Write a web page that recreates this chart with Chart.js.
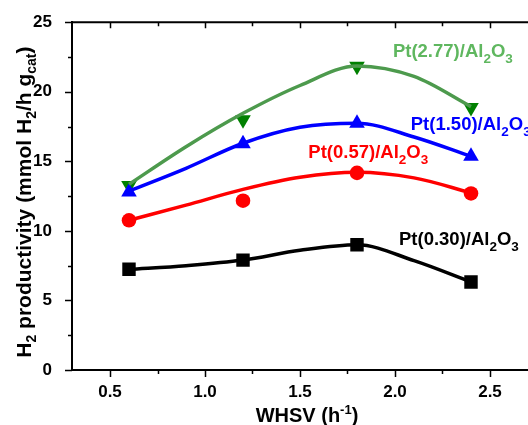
<!DOCTYPE html>
<html><head><meta charset="utf-8">
<script src="https://cdn.jsdelivr.net/npm/chart.js@4.4.1/dist/chart.umd.min.js"></script>
<style>html,body{margin:0;padding:0;background:#fff;}#wrap{width:528px;height:425px;position:relative;}</style>
</head><body><div id="wrap"><canvas id="c" width="528" height="425"></canvas></div>
<script>
// measured points
const whsv = [0.6, 1.2, 1.8, 2.4];
const pt030 = [7.24, 7.90, 9.00, 6.33];
const pt057 = [10.76, 12.17, 14.17, 12.69];
const pt150 = [12.80, 16.26, 17.74, 15.36];
const pt277 = [13.26, 17.98, 21.83, 18.86];
// fitted curves
const fitX = [0.6, 0.9, 1.2, 1.5, 1.8, 2.1, 2.4];
const fit030 = [7.24, 7.5, 7.9, 8.6, 9.0, 7.86, 6.33];
const fit057 = [10.76, 11.85, 12.98, 13.85, 14.21, 13.81, 12.74];
const fit150 = [12.86, 14.5, 16.3, 17.45, 17.74, 16.75, 15.36];
const fit277 = [13.35, 16.05, 18.45, 20.45, 21.85, 21.1, 18.93];
// ticks
const xMajor = [0.5, 1.0, 1.5, 2.0, 2.5];
const xMinor = [0.75, 1.25, 1.75, 2.25];
const yMajor = [0, 5, 10, 15, 20, 25];
const yMinor = [2.5, 7.5, 12.5, 17.5, 22.5];
const xLabels = ['0.5', '1.0', '1.5', '2.0', '2.5'];

const FONT = '"Liberation Sans", Arial, sans-serif';
const pts = (xs, ys) => xs.map((x, i) => ({x, y: ys[i]}));

const seriesLabels = [
  {parts: [{t:'Pt(2.77)/Al'},{t:'2',sub:1},{t:'O'},{t:'3',sub:1}], x: 1.989, y: 22.5, color: '#5fb75f'},
  {parts: [{t:'Pt(1.50)/Al'},{t:'2',sub:1},{t:'O'},{t:'3',sub:1}], x: 2.083, y: 17.26, color: '#0000ff'},
  {parts: [{t:'Pt(0.57)/Al'},{t:'2',sub:1},{t:'O'},{t:'3',sub:1}], x: 1.544, y: 15.24, color: '#ff0000'},
  {parts: [{t:'Pt(0.30)/Al'},{t:'2',sub:1},{t:'O'},{t:'3',sub:1}], x: 2.021, y: 9.02, color: '#000000'}
];
const yTitle = [{t:'H'},{t:'2',sub:1},{t:' productivity (mmol H'},{t:'2',sub:1},{t:'/h g'},{t:'cat',sub:1},{t:')'}];
const xTitle = [{t:'WHSV (h'},{t:'-1',sup:1},{t:')'}];

function richWidth(ctx, parts, size, small) {
  let w = 0;
  parts.forEach(p => { ctx.font = 'bold ' + ((p.sub||p.sup) ? small : size) + 'px ' + FONT; w += ctx.measureText(p.t).width; });
  return w;
}
function drawRich(ctx, parts, x, y, size, small, off) {
  let cx = x;
  parts.forEach(p => {
    ctx.font = 'bold ' + ((p.sub||p.sup) ? small : size) + 'px ' + FONT;
    const dy = p.sub ? off : (p.sup ? -off*1.3 : 0);
    ctx.fillText(p.t, cx, y + dy);
    cx += ctx.measureText(p.t).width;
  });
}

const decor = {
  id: 'decor',
  afterDraw(chart) {
    const ctx = chart.ctx, a = chart.chartArea;
    const xs = chart.scales.x, ys = chart.scales.y;
    ctx.save();
    ctx.strokeStyle = '#000'; ctx.fillStyle = '#000';
    ctx.lineWidth = 2;
    ctx.beginPath(); ctx.moveTo(a.left - 1, a.top); ctx.lineTo(a.right, a.top); ctx.stroke();
    ctx.lineWidth = 1.5;
    ctx.beginPath();
    xMajor.forEach(v => { const p = Math.round(xs.getPixelForValue(v)) + 0.5;
      ctx.moveTo(p, a.bottom); ctx.lineTo(p, a.bottom + 7);
      ctx.moveTo(p, a.top); ctx.lineTo(p, a.top + 6); });
    xMinor.forEach(v => { const p = Math.round(xs.getPixelForValue(v)) + 0.5;
      ctx.moveTo(p, a.bottom); ctx.lineTo(p, a.bottom + 4);
      ctx.moveTo(p, a.top); ctx.lineTo(p, a.top + 4); });
    yMajor.forEach(v => { const p = Math.round(ys.getPixelForValue(v)) + 0.5;
      ctx.moveTo(a.left, p); ctx.lineTo(a.left - 7, p); });
    yMinor.forEach(v => { const p = Math.round(ys.getPixelForValue(v)) + 0.5;
      ctx.moveTo(a.left, p); ctx.lineTo(a.left - 4, p); });
    ctx.stroke();
    ctx.textBaseline = 'alphabetic'; ctx.textAlign = 'left';
    seriesLabels.forEach(l => {
      ctx.fillStyle = l.color;
      drawRich(ctx, l.parts, xs.getPixelForValue(l.x), ys.getPixelForValue(l.y), 18.5, 13.5, 6);
    });
    ctx.fillStyle = '#000';
    const wx = richWidth(ctx, xTitle, 20, 13);
    drawRich(ctx, xTitle, (a.left + a.right) / 2 + 7 - wx / 2, 422, 20, 13, 6);
    const wy = richWidth(ctx, yTitle, 21, 14);
    ctx.translate(31, (a.top + a.bottom) / 2 + 6);
    ctx.rotate(-Math.PI / 2);
    drawRich(ctx, yTitle, -wy / 2, 0, 21, 14, 5);
    ctx.restore();
  }
};

const lineDs = (data, color) => ({type: 'scatter', data: pts(fitX, data), showLine: true, borderColor: color,
  borderWidth: 3.5, pointRadius: 0, cubicInterpolationMode: 'monotone', fill: false, order: 0});
const markDs = (data, color, style, r, rot) => ({type: 'scatter', data: pts(whsv, data), showLine: false,
  pointStyle: style, pointRadius: r, pointRotation: rot || 0, backgroundColor: color, borderColor: color,
  borderWidth: 0, pointHoverRadius: r, order: 1});

new Chart(document.getElementById('c'), {
  type: 'scatter',
  data: {datasets: [
    markDs(pt030, '#000000', 'rect', 9.5),
    markDs(pt057, '#ff0000', 'circle', 7.3),
    markDs(pt150, '#0000ff', 'triangle', 9),
    markDs(pt277, '#008000', 'triangle', 9, 180),
    lineDs(fit030, '#000000'),
    lineDs(fit057, '#ff0000'),
    lineDs(fit150, '#0000ff'),
    lineDs(fit277, '#4d9a4d')
  ]},
  options: {
    responsive: false, animation: false, events: [],
    layout: {autoPadding: false, padding: {left: 12, top: 20, right: 0, bottom: 0}},
    plugins: {legend: {display: false}, tooltip: {enabled: false}},
    scales: {
      x: {type: 'linear', min: 0.3, max: 2.7,
        grid: {display: false}, border: {display: true, color: '#000', width: 2},
        afterBuildTicks: s => { s.ticks = xMajor.map(v => ({value: v})); },
        afterFit: s => { s.height = 55; },
        ticks: {padding: 4, color: '#000', font: {family: FONT, size: 17, weight: 'bold'},
          callback: (v) => { const i = xMajor.indexOf(v); return i >= 0 ? xLabels[i] : ''; }}},
      y: {type: 'linear', min: 0, max: 25,
        grid: {display: false}, border: {display: true, color: '#000', width: 2},
        afterBuildTicks: s => { s.ticks = yMajor.map(v => ({value: v})); },
        afterFit: s => { s.width = 60; },
        ticks: {padding: 12, color: '#000', font: {family: FONT, size: 17, weight: 'bold'}}}
    }
  },
  plugins: [decor]
});
</script></body></html>
